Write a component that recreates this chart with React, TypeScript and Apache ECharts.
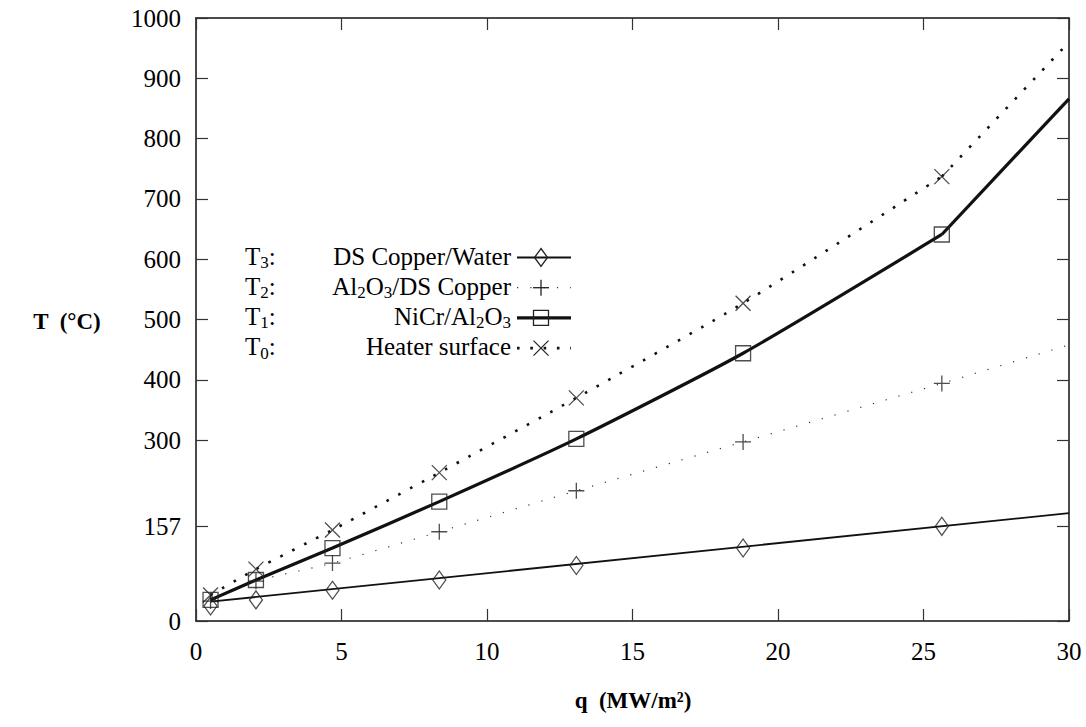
import React, { useEffect, useRef } from "react";
import * as echarts from "echarts";

// Heat flux q (MW/m^2) at the measured points
const qValues = [0.5, 2.06, 4.69, 8.36, 13.07, 18.8, 25.63];
// Measured temperatures (°C)
const t0Heater = [43, 86, 151, 246, 370, 527, 737];
const t1NiCr = [35, 68, 121, 198, 302, 444, 641];
const t2Al2O3 = [33, 66, 96, 148, 216, 297, 394];
const t3Copper = [25, 35, 51, 68, 92, 121, 157];

// Fitted / extrapolated curve pieces
const tailQ = [25.63, 30];
const t0Tail = [737, 960];
const t1Tail = [641, 866];
const t2EndQ = 30;
const t2End = 458;
const t3FitQ = [0.5, 30];
const t3Fit = [32, 179];

// Axis ticks
const yTicks = [0, 157, 300, 400, 500, 600, 700, 800, 900, 1000];
const xMin = 0;
const xMax = 30;
const xStep = 5;

const FONT = "'Liberation Serif', 'Times New Roman', serif";
const INK = "#111";

const zip = (xs: number[], ys: number[]) => xs.map((x, i) => [x, ys[i]]);

export default function App() {
  const ref = useRef<HTMLDivElement>(null);

  useEffect(() => {
    if (!ref.current) return;
    const chart = echarts.init(ref.current, undefined, { renderer: "svg" });

    const t0Line = { color: INK, width: 2.6, type: [2.6, 10.7] as any, cap: "butt" as any };
    const t1Line = { color: INK, width: 3.2, type: "solid" as any };
    const t2Line = { color: "#333", width: 1.2, type: [1.2, 12.1] as any, cap: "butt" as any };
    const t3Line = { color: INK, width: 1.8, type: "solid" as any };

    const markerStyle = { color: "none", borderColor: "#222", borderWidth: 1.3 };

    const plusPath = "path://M8,0 L8,16 M0,8 L16,8";
    const crossPath = "path://M0,0 L16,16 M16,0 L0,16";

    const lineSeries = (data: number[][], lineStyle: any, smooth: boolean) => ({
      type: "line",
      data,
      showSymbol: false,
      smooth: smooth ? 0.2 : false,
      lineStyle,
      silent: true,
      z: 2,
    });

    const scatterSeries = (ys: number[], symbol: string, size: any) => ({
      type: "scatter",
      data: zip(qValues, ys),
      symbol,
      symbolSize: size,
      itemStyle: markerStyle,
      silent: true,
      z: 3,
    });

    // Legend (drawn by hand)
    const legendRows = [
      { left: "{n|T}{s|3}{n|:}", right: "{n|DS Copper/Water}", line: t3Line, mark: "diamond" },
      { left: "{n|T}{s|2}{n|:}", right: "{n|Al}{s|2}{n|O}{s|3}{n|/DS Copper}", line: t2Line, mark: "plus" },
      { left: "{n|T}{s|1}{n|:}", right: "{n|NiCr/Al}{s|2}{n|O}{s|3}", line: t1Line, mark: "square" },
      { left: "{n|T}{s|0}{n|:}", right: "{n|Heater surface}", line: t0Line, mark: "cross" },
    ];
    const rich = {
      n: { fontFamily: FONT, fontSize: 25, lineHeight: 30, fill: "#000", color: "#000" },
      s: { fontFamily: FONT, fontSize: 17, lineHeight: 18, verticalAlign: "bottom", fill: "#000", color: "#000" },
    };
    const legendEls: any[] = [];
    const mkStroke = { stroke: "#222", lineWidth: 1.3, fill: "none" };
    legendRows.forEach((r, i) => {
      const y = 256 + i * 30.2;
      const ly = y + 1.5;
      legendEls.push({
        type: "text",
        x: 245,
        y,
        style: { text: r.left, rich, align: "left", verticalAlign: "middle" },
      });
      legendEls.push({
        type: "text",
        x: 511,
        y,
        style: { text: r.right, rich, align: "right", verticalAlign: "middle" },
      });
      const dash = Array.isArray(r.line.type) ? r.line.type : null;
      legendEls.push({
        type: "line",
        shape: { x1: 517, y1: ly, x2: 571, y2: ly },
        style: { stroke: r.line.color, lineWidth: r.line.width, lineDash: dash, lineCap: "butt" },
      });
      const cx = 541;
      if (r.mark === "diamond") {
        legendEls.push({
          type: "polygon",
          shape: { points: [[cx, ly - 9], [cx + 6.5, ly], [cx, ly + 9], [cx - 6.5, ly]] },
          style: mkStroke,
        });
      } else if (r.mark === "plus") {
        legendEls.push({ type: "line", shape: { x1: cx - 8, y1: ly, x2: cx + 8, y2: ly }, style: mkStroke });
        legendEls.push({ type: "line", shape: { x1: cx, y1: ly - 8, x2: cx, y2: ly + 8 }, style: mkStroke });
      } else if (r.mark === "square") {
        legendEls.push({ type: "rect", shape: { x: cx - 7.5, y: ly - 7.5, width: 15, height: 15 }, style: mkStroke });
      } else {
        legendEls.push({ type: "line", shape: { x1: cx - 7.5, y1: ly - 7.5, x2: cx + 7.5, y2: ly + 7.5 }, style: mkStroke });
        legendEls.push({ type: "line", shape: { x1: cx + 7.5, y1: ly - 7.5, x2: cx - 7.5, y2: ly + 7.5 }, style: mkStroke });
      }
    });

    const mkAxisLine = () => ({ show: true, onZero: false, lineStyle: { color: INK, width: 1.5 } });
    const mkTick = (extra: any = {}) => ({
      show: true,
      inside: true,
      length: 12,
      lineStyle: { color: "#333", width: 1.2 },
      ...extra,
    });
    const fmt = (v: number) => String(v);

    chart.setOption({
      animation: false,
      grid: { left: 196, right: 17, top: 18, bottom: 106, containLabel: false },
      xAxis: [
        {
          type: "value",
          min: xMin,
          max: xMax,
          interval: xStep,
          position: "bottom",
          axisLine: mkAxisLine(),
          axisTick: mkTick(),
          splitLine: { show: false },
          axisLabel: {
            formatter: fmt,
            fontFamily: FONT,
            fontSize: 25,
            color: "#000",
            margin: 18,
            showMinLabel: true,
            showMaxLabel: true,
          },
        },
        {
          type: "value",
          min: xMin,
          max: xMax,
          interval: xStep,
          position: "top",
          axisLine: mkAxisLine(),
          axisTick: mkTick(),
          splitLine: { show: false },
          axisLabel: { show: false },
        },
      ],
      yAxis: [
        {
          type: "value",
          min: 0,
          max: 1000,
          position: "left",
          axisLine: mkAxisLine(),
          axisTick: mkTick({ customValues: yTicks }),
          splitLine: { show: false },
          axisLabel: {
            customValues: yTicks,
            formatter: fmt,
            fontFamily: FONT,
            fontSize: 25,
            color: "#000",
            margin: 15,
            showMinLabel: true,
            showMaxLabel: true,
          },
        },
        {
          type: "value",
          min: 0,
          max: 1000,
          position: "right",
          axisLine: mkAxisLine(),
          axisTick: mkTick({ customValues: yTicks }),
          splitLine: { show: false },
          axisLabel: { show: false },
        },
      ],
      series: [
        lineSeries(zip(t3FitQ, t3Fit), t3Line, false),
        lineSeries([...zip(qValues, t2Al2O3), [t2EndQ, t2End]], t2Line, true),
        lineSeries(zip(qValues, t1NiCr), t1Line, true),
        lineSeries(zip(tailQ, t1Tail), t1Line, false),
        lineSeries(zip(qValues, t0Heater), t0Line, true),
        lineSeries(zip(tailQ, t0Tail), t0Line, false),
        scatterSeries(t3Copper, "diamond", [13, 18]),
        scatterSeries(t2Al2O3, plusPath, 16),
        scatterSeries(t1NiCr, "rect", 15),
        scatterSeries(t0Heater, crossPath, 15),
      ],
      graphic: [
        {
          type: "text",
          x: 67,
          y: 321,
          style: {
            text: "T  (°C)",
            fontFamily: FONT,
            fontSize: 23,
            fontWeight: "bold",
            fill: "#000",
            align: "center",
            verticalAlign: "middle",
          },
        },
        {
          type: "text",
          x: 633,
          y: 700,
          style: {
            text: "q  (MW/m²)",
            fontFamily: FONT,
            fontSize: 23,
            fontWeight: "bold",
            fill: "#000",
            align: "center",
            verticalAlign: "middle",
          },
        },
        ...legendEls,
      ],
    });

    return () => {
      chart.dispose();
    };
  }, []);

  return (
    <div
      ref={ref}
      style={{ position: "absolute", left: 0, top: 0, width: 1086, height: 727, background: "#fff" }}
    />
  );
}
